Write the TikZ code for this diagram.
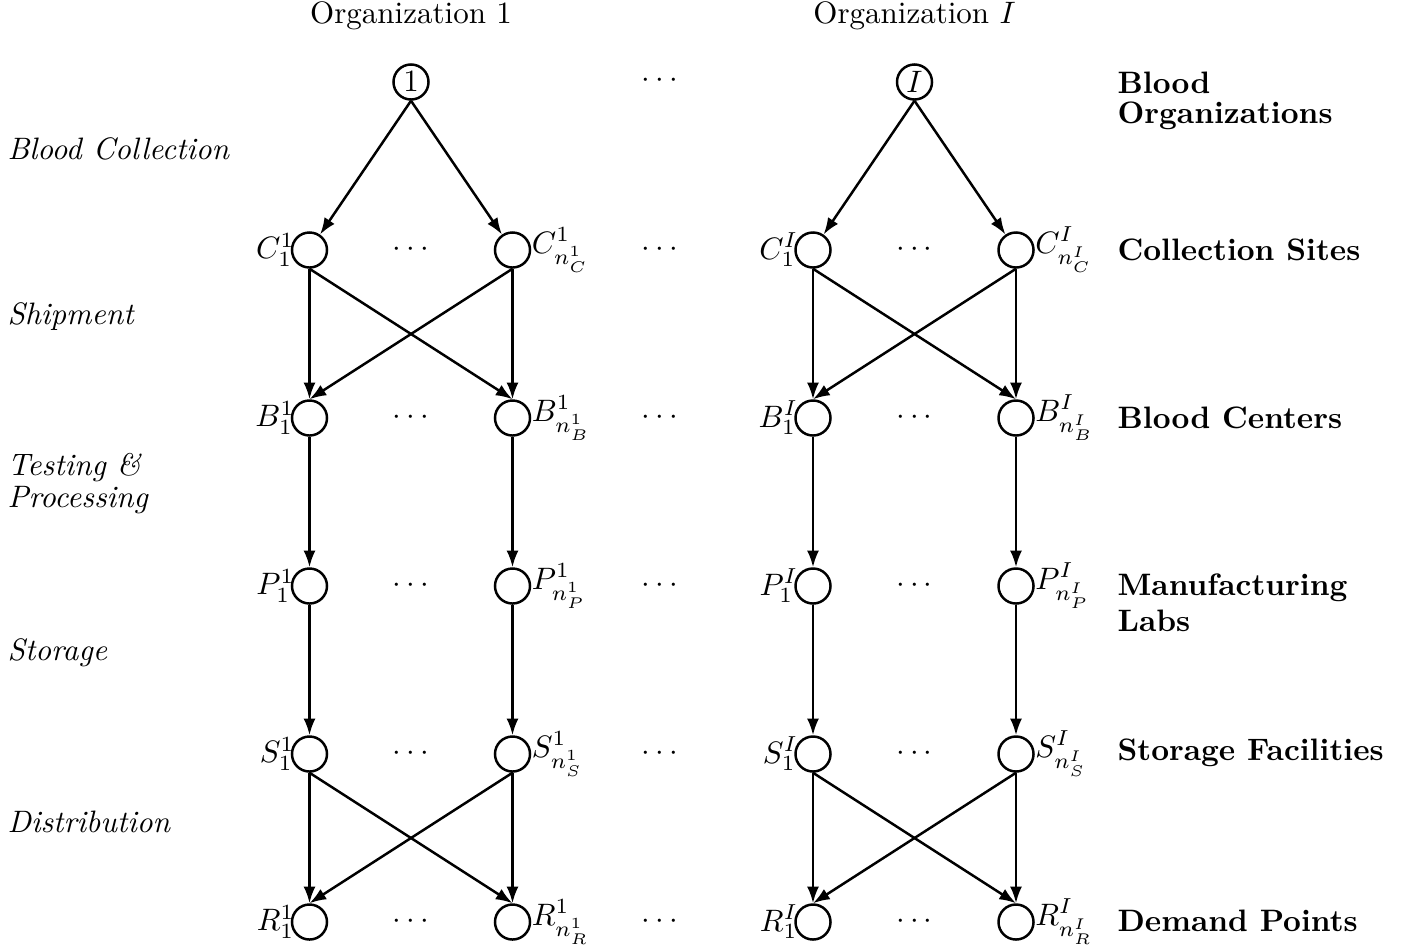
\documentclass[tikz,border=0pt]{standalone}
\usetikzlibrary{arrows.meta}
\begin{document}
\begin{tikzpicture}[x=0.3226pt,y=-0.3226pt,
  nd/.style={circle,draw,thick,minimum size=11.3pt,inner sep=0pt},
  arr/.style={thick,-{Latex[length=5.4pt,width=3.9pt]}},
  lft/.style={anchor=base west,inner sep=0pt,font=\itshape},
  rgt/.style={anchor=base west,inner sep=0pt,font=\bfseries},
  dts/.style={inner sep=0pt}]
\useasboundingbox (0,0) rectangle (1405,951);
% headers
\node[anchor=base] (hA) at (411,23) {Organization 1};
\node[anchor=base] (hB) at (914.5,23) {Organization $I$};
% organizations
\foreach \ox/\kk/\nm in {0/1/a,503.5/I/b}{
  \node[nd] (top\nm) at (411+\ox,82) {$\kk$};
  \foreach \L/\yy in {C/250,B/418,P/586,S/754,R/922}{
    \node[nd,label={[inner sep=0pt,xshift=1.4pt]left:$\L^{\kk}_1$}] (\L1\nm) at (309.5+\ox,\yy) {};
    \node[nd,label={[inner sep=0pt]right:$\L^{\kk}_{n^{\kk}_{\L}}$}] (\L2\nm) at (512.5+\ox,\yy) {};
    \node[dts] (d\L\nm) at (411+\ox,\yy) {$\cdots$};
  }
  \draw[arr] (top\nm.south) -- (C1\nm);
  \draw[arr] (top\nm.south) -- (C2\nm);
  \draw[arr] (C1\nm.south) -- (B1\nm.north);
  \draw[arr] (C1\nm.south) -- (B2\nm.north);
  \draw[arr] (C2\nm.south) -- (B1\nm.north);
  \draw[arr] (C2\nm.south) -- (B2\nm.north);
  \draw[arr] (B1\nm.south) -- (P1\nm.north);
  \draw[arr] (B2\nm.south) -- (P2\nm.north);
  \draw[arr] (P1\nm.south) -- (S1\nm.north);
  \draw[arr] (P2\nm.south) -- (S2\nm.north);
  \draw[arr] (S1\nm.south) -- (R1\nm.north);
  \draw[arr] (S1\nm.south) -- (R2\nm.north);
  \draw[arr] (S2\nm.south) -- (R1\nm.north);
  \draw[arr] (S2\nm.south) -- (R2\nm.north);
}
% dots between organizations
\foreach \yy/\nn in {81/t,250/c,418/b,586/p,754/s,922/r}{
  \node[dts] (mid\nn) at (660,\yy) {$\cdots$};
}
% left labels
\node[lft] (l1) at (7,159) {Blood Collection};
\node[lft] (l2) at (7,324) {Shipment};
\node[lft] (l3a) at (7,475) {Testing \&};
\node[lft] (l3b) at (7,507) {Processing};
\node[lft] (l4) at (7,660) {Storage};
\node[lft] (l5) at (7,832) {Distribution};
% right labels
\node[rgt] (r1a) at (1117,93) {Blood};
\node[rgt] (r1b) at (1117,123) {Organizations};
\node[rgt] (r2) at (1117,260) {Collection Sites};
\node[rgt] (r3) at (1117,428) {Blood Centers};
\node[rgt] (r4a) at (1117,595) {Manufacturing};
\node[rgt] (r4b) at (1117,631) {Labs};
\node[rgt] (r5) at (1117,760) {Storage Facilities};
\node[rgt] (r6) at (1117,931) {Demand Points};
\end{tikzpicture}
\end{document}
